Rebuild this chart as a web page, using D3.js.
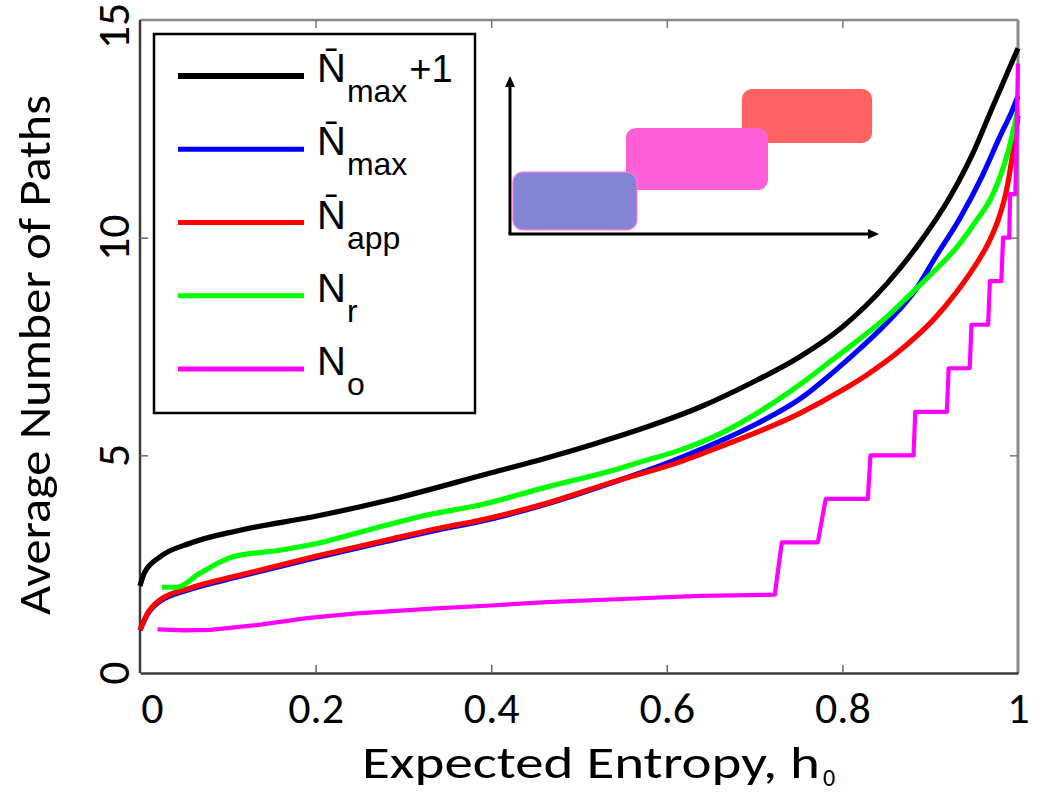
<!DOCTYPE html>
<html><head><meta charset="utf-8">
<script src="https://cdn.jsdelivr.net/npm/d3@7"></script>
<style>body{margin:0;background:#fff;} svg{display:block;}</style>
</head><body>
<svg id="chart" width="1038" height="793"></svg>
<script>
// ---------- data ----------
const xTicks = [0, 0.2, 0.4, 0.6, 0.8, 1];
const xTickLabels = ["0", "0.2", "0.4", "0.6", "0.8", "1"];
const yTicks = [0, 5, 10, 15];
const yTickLabels = ["0", "5", "10", "15"];

// N̄max + 1  (black)
const nMaxPlus1 = [[0,2.0],[0.005,2.3],[0.023,2.67],[0.057,2.98],[0.114,3.28],[0.2,3.6],[0.285,3.98],[0.4,4.6],[0.463,4.94],[0.52,5.28],[0.577,5.65],[0.638,6.11],[0.695,6.65],[0.752,7.27],[0.80,7.95],[0.851,8.95],[0.885,9.8],[0.923,10.95],[0.95,12.0],[0.97,12.95],[0.985,13.65],[1.0,14.35]];
// N̄max (blue)
const nMax = [[0,0.98],[0.008,1.33],[0.023,1.65],[0.057,1.92],[0.114,2.22],[0.2,2.65],[0.28,3.02],[0.342,3.3],[0.387,3.48],[0.463,3.88],[0.539,4.38],[0.6,4.82],[0.638,5.13],[0.695,5.65],[0.752,6.3],[0.789,6.9],[0.82,7.45],[0.851,8.05],[0.885,8.85],[0.906,9.55],[0.934,10.45],[0.96,11.45],[0.98,12.35],[0.993,12.9],[1.0,13.25]];
// N̄app (red)
const nApp = [[0,0.99],[0.008,1.35],[0.023,1.68],[0.057,1.95],[0.114,2.25],[0.2,2.68],[0.28,3.05],[0.342,3.33],[0.387,3.51],[0.463,3.9],[0.539,4.39],[0.615,4.85],[0.661,5.2],[0.752,5.97],[0.80,6.5],[0.828,6.85],[0.871,7.5],[0.903,8.1],[0.93,8.75],[0.951,9.35],[0.968,9.95],[0.979,10.5],[0.987,11.1],[0.993,11.8],[1.0,12.8]];
// Nr (green)
const nR = [[0.025,1.97],[0.042,1.97],[0.068,2.29],[0.106,2.67],[0.159,2.82],[0.209,3.01],[0.266,3.32],[0.327,3.63],[0.387,3.86],[0.463,4.27],[0.539,4.66],[0.577,4.89],[0.615,5.12],[0.661,5.5],[0.714,6.11],[0.76,6.75],[0.789,7.2],[0.815,7.6],[0.846,8.1],[0.88,8.75],[0.903,9.2],[0.929,9.75],[0.951,10.35],[0.9715,11.0],[0.989,12.0],[1.0,12.95]];
// No (magenta)
const nO = [[0.02,1.0],[0.05,0.98],[0.08,0.99],[0.133,1.10],[0.19,1.26],[0.247,1.37],[0.342,1.49],[0.40,1.55],[0.463,1.63],[0.55,1.70],[0.638,1.77],[0.723,1.80],[0.731,3.0],[0.772,3.0],[0.781,4.0],[0.829,4.0],[0.832,5.0],[0.881,5.0],[0.883,6.0],[0.919,6.0],[0.921,7.0],[0.945,7.0],[0.947,8.0],[0.966,8.0],[0.968,9.0],[0.981,9.0],[0.983,10.0],[0.990,10.0],[0.991,11.0],[0.997,11.0],[0.998,12.0],[0.999,13.0],[1.0,14.0]];

const seriesData = [nMaxPlus1, nMax, nApp, nR, nO];
const seriesColors = ["#000000", "#0000ff", "#ff0000", "#00ff00", "#ff00ff"];
const seriesSmooth = [true, true, true, true, false];
// legend labels: main letter, overbar, subscript, trailing text
const legendMain = ["N", "N", "N", "N", "N"];
const legendBar = [true, true, true, false, false];
const legendSub = ["max", "max", "app", "r", "o"];
const legendTail = ["+1", "", "", "", ""];

// inset schematic (abstract units 0..100)
const insetBoxes = [
  {x0: 63, x1: 98.4, y0: 58.3, y1: 92.9, color: "#ff6262", stroke: "none"},
  {x0: 31.5, x1: 70.1, y0: 28.2, y1: 68, color: "#ff5fd7", stroke: "none"},
  {x0: 0.8, x1: 34.5, y0: 2.6, y1: 39.7, color: "#8484d4", stroke: "#ff7ad8"}
];

// ---------- drawing ----------
const svg = d3.select("#chart");
const x = d3.scaleLinear().domain([0, 1]).range([140, 1018]);
const y = d3.scaleLinear().domain([0, 15]).range([673, 20]);
const tickFont = "Carlito, Calibri, 'Open Sans', sans-serif";
const legFont = "'Liberation Sans', Arial, Helvetica, sans-serif";

// axes frame
svg.append("line").attr("x1", x(0)).attr("x2", x(1)).attr("y1", y(15)).attr("y2", y(15)).attr("stroke", "#8a8a8a").attr("stroke-width", 2.5);
svg.append("line").attr("x1", x(1)).attr("x2", x(1)).attr("y1", y(15)).attr("y2", y(0)).attr("stroke", "#8a8a8a").attr("stroke-width", 3);
svg.append("line").attr("x1", x(0)).attr("x2", x(0)).attr("y1", y(15)).attr("y2", y(0)).attr("stroke", "#3a3a3a").attr("stroke-width", 2.5);

// bottom axis (ticks inward)
const gx = svg.append("g").attr("transform", `translate(0,${y(0)})`)
  .call(d3.axisBottom(x).tickValues(xTicks).tickFormat((d, i) => xTickLabels[i]).tickSizeInner(-8).tickSizeOuter(0).tickPadding(0));
gx.select(".domain").attr("stroke", "#3a3a3a").attr("stroke-width", 2.5);
gx.selectAll(".tick line").attr("stroke", "#666").attr("stroke-width", 1.5);
gx.selectAll(".tick text").attr("font-family", tickFont).attr("font-size", 44).attr("fill", "#000")
  .attr("dy", null).attr("y", 50).attr("dx", (d, i) => i === 0 ? 12 : 0);
gx.selectAll(".tick").filter(d => d === 0 || d === 1).select("line").remove();

// top ticks
svg.append("g").attr("transform", `translate(0,${y(15)})`)
  .call(d3.axisTop(x).tickValues(xTicks.filter(d => d > 0 && d < 1)).tickFormat("").tickSizeInner(-8).tickSizeOuter(0))
  .call(g => { g.select(".domain").remove(); g.selectAll(".tick line").attr("stroke", "#777").attr("stroke-width", 1.5); });

// left ticks + rotated labels
const gy = svg.append("g").attr("transform", `translate(${x(0)},0)`)
  .call(d3.axisLeft(y).tickValues(yTicks).tickFormat("").tickSizeInner(-8).tickSizeOuter(0));
gy.select(".domain").remove();
gy.selectAll(".tick").filter(d => d === 0 || d === 15).select("line").remove();
gy.selectAll(".tick line").attr("stroke", "#666").attr("stroke-width", 1.5);
svg.append("g").selectAll("text").data(yTicks).join("text")
  .attr("transform", d => `translate(129,${Math.max(y(d), 26)}) rotate(-90)`)
  .attr("text-anchor", "middle")
  .attr("font-family", tickFont).attr("font-size", 46).attr("fill", "#000")
  .text((d, i) => yTickLabels[i]);
// right ticks
svg.append("g").attr("transform", `translate(${x(1)},0)`)
  .call(d3.axisRight(y).tickValues(yTicks.filter(d => d > 0 && d < 15)).tickFormat("").tickSizeInner(-8).tickSizeOuter(0))
  .call(g => { g.select(".domain").remove(); g.selectAll(".tick line").attr("stroke", "#777").attr("stroke-width", 1.5); });

// axis titles
svg.append("text").attr("x", 362).attr("y", 778)
  .attr("font-family", tickFont).attr("font-size", 46).attr("fill", "#000")
  .attr("textLength", 458).attr("lengthAdjust", "spacingAndGlyphs")
  .text("Expected Entropy, h");
svg.append("text").attr("x", 823).attr("y", 786)
  .attr("font-family", tickFont).attr("font-size", 24).attr("fill", "#000").text("0");
svg.append("text").attr("transform", "translate(50,355) rotate(-90)")
  .attr("text-anchor", "middle")
  .attr("font-family", tickFont).attr("font-size", 46).attr("fill", "#000")
  .attr("textLength", 520).attr("lengthAdjust", "spacingAndGlyphs")
  .text("Average Number of Paths");

// inset
const ix = d3.scaleLinear().domain([0, 100]).range([510, 878]);
const iy = d3.scaleLinear().domain([0, 100]).range([234, 78]);
const inset = svg.append("g");
inset.selectAll("rect").data(insetBoxes).join("rect")
  .attr("x", d => ix(d.x0)).attr("y", d => iy(d.y1))
  .attr("width", d => ix(d.x1) - ix(d.x0)).attr("height", d => iy(d.y0) - iy(d.y1))
  .attr("rx", 10).attr("fill", d => d.color).attr("stroke", d => d.stroke).attr("stroke-width", 1.2);
inset.append("line").attr("x1", ix(0)).attr("y1", iy(0)).attr("x2", ix(0)).attr("y2", iy(100) + 8).attr("stroke", "#000").attr("stroke-width", 3);
inset.append("line").attr("x1", ix(0) - 1.5).attr("y1", iy(0)).attr("x2", ix(100) - 8).attr("y2", iy(0)).attr("stroke", "#000").attr("stroke-width", 3);
inset.append("path").attr("d", `M${ix(0)},${iy(100) - 2} l-5,11 l10,0 z`).attr("fill", "#000");
inset.append("path").attr("d", `M${ix(100) + 1},${iy(0)} l-11,-5 l0,10 z`).attr("fill", "#000");

// series lines
const lineSmooth = d3.line().x(d => x(d[0])).y(d => y(d[1])).curve(d3.curveMonotoneX);
const lineStep = d3.line().x(d => x(d[0])).y(d => y(d[1])).curve(d3.curveLinear);
svg.append("g").selectAll("path").data(seriesData).join("path")
  .attr("d", (d, i) => (seriesSmooth[i] ? lineSmooth : lineStep)(d))
  .attr("fill", "none").attr("stroke", (d, i) => seriesColors[i])
  .attr("stroke-width", (d, i) => i === 4 ? 4.2 : 5.2)
  .attr("stroke-linejoin", "round");

// legend
const leg = svg.append("g");
leg.append("rect").attr("x", 154).attr("y", 34).attr("width", 321).attr("height", 379)
  .attr("fill", "#fff").attr("stroke", "#000").attr("stroke-width", 2.5);
const rowY = d3.scaleLinear().domain([0, 4]).range([82, 375]);
seriesColors.forEach((c, i) => {
  const by = rowY(i);
  leg.append("line").attr("x1", 178).attr("x2", 304).attr("y1", by - 6).attr("y2", by - 6)
    .attr("stroke", c).attr("stroke-width", i === 0 ? 6 : 5);
  const t = leg.append("text").attr("x", 317).attr("y", by)
    .attr("font-family", legFont).attr("font-size", 40).attr("fill", "#000");
  t.append("tspan").text(legendMain[i] + (legendBar[i] ? "\u0304" : ""));
  t.append("tspan").attr("dy", 20).attr("dx", 1).attr("font-size", 32).text(legendSub[i]);
  if (legendTail[i]) t.append("tspan").attr("dy", -20).attr("dx", 2).attr("font-size", 38).text(legendTail[i]);
});
</script>
</body></html>
